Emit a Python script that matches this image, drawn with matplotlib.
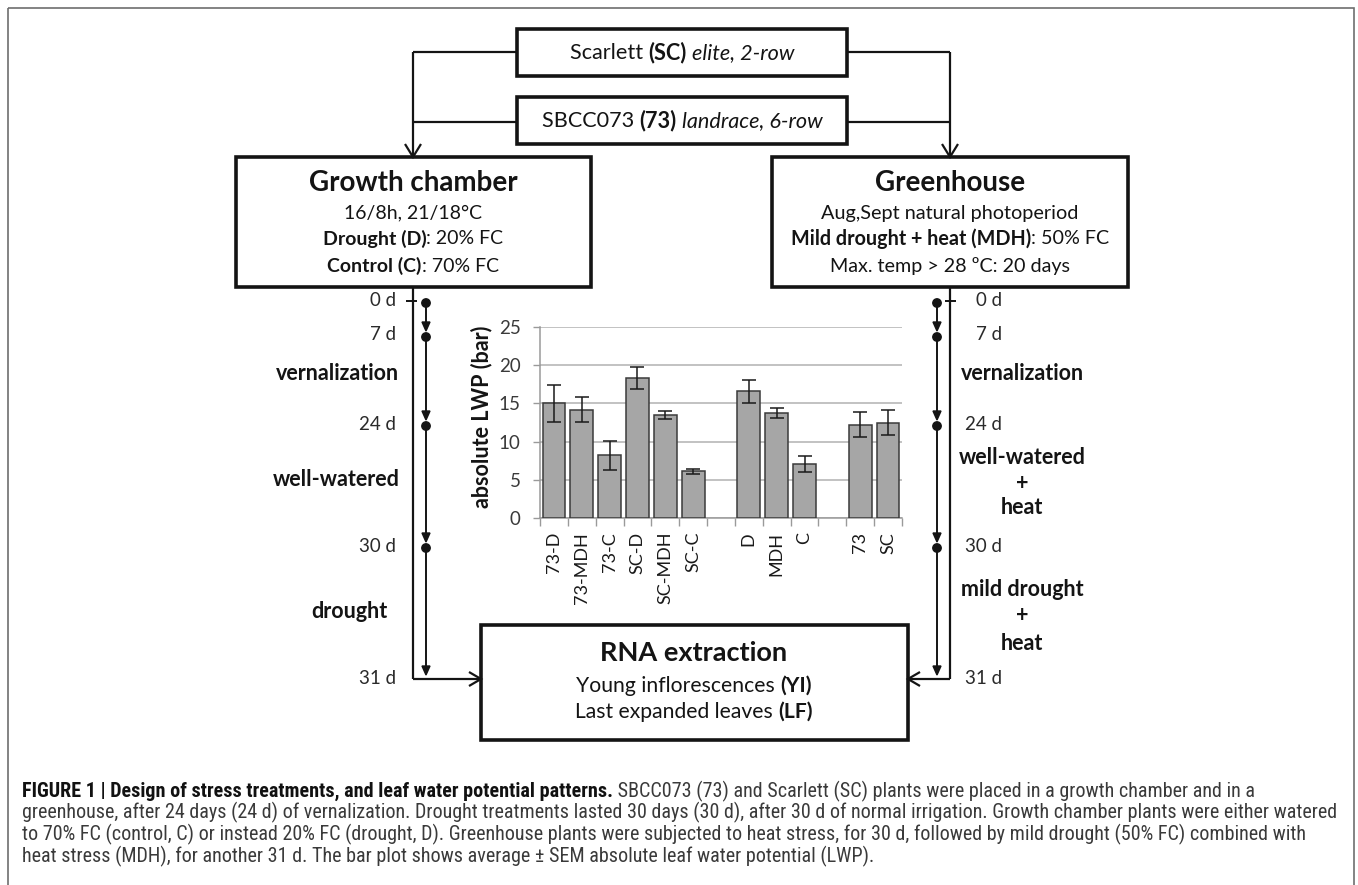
import matplotlib
matplotlib.use("Agg")
import matplotlib.pyplot as plt
from matplotlib import font_manager as fm
from matplotlib.patches import Rectangle, Polygon, Circle

W, H, DPI = 1358, 885, 100
FONT = ["Lato", "DejaVu Sans"]
INK = "#141414"

# ---- bar chart data: absolute leaf water potential (bar), mean and SEM ----
categories = ["73-D", "73-MDH", "73-C", "SC-D", "SC-MDH", "SC-C",
              "D", "MDH", "C",
              "73", "SC"]
lwp_mean = [15.0, 14.2, 8.2, 18.3, 13.5, 6.1, 16.6, 13.8, 7.1, 12.2, 12.5]
lwp_sem = [2.4, 1.6, 1.9, 1.4, 0.5, 0.35, 1.5, 0.65, 1.05, 1.65, 1.7]
group_sizes = [6, 3, 2]
y_ticks = [0, 5, 10, 15, 20, 25]
y_label = "absolute LWP (bar)"

# ---- diagram text ----
day_labels = ["0 d", "7 d", "24 d", "30 d", "31 d"]
chamber_phases = [["vernalization"], ["well-watered"], ["drought"]]
greenhouse_phases = [["vernalization"], ["well-watered", "+", "heat"],
                     ["mild drought", "+", "heat"]]
caption_lines = [
    [("FIGURE 1 | Design of stress treatments, and leaf water potential patterns.", "bold"),
     (" SBCC073 (73) and Scarlett (SC) plants were placed in a growth chamber and in a", "normal")],
    [("greenhouse, after 24 days (24 d) of vernalization. Drought treatments lasted 30 days (30 d), "
      "after 30 d of normal irrigation. Growth chamber plants were either watered", "normal")],
    [("to 70% FC (control, C) or instead 20% FC (drought, D). Greenhouse plants were subjected to "
      "heat stress, for 30 d, followed by mild drought (50% FC) combined with", "normal")],
    [("heat stress (MDH), for another 31 d. The bar plot shows average \u00b1 SEM absolute leaf "
      "water potential (LWP).", "normal")],
]


def find_condensed(bold):
    """Locate an installed narrow/condensed sans face for the caption."""
    prefs = ["liberation sans narrow", "roboto condensed", "dejavu sans",
             "noto sans", "open sans", "arial narrow", "liberation sans"]
    best = None
    for f in fm.fontManager.ttflist:
        name = f.name.lower()
        fname = f.fname.lower()
        narrow = ("narrow" in name or "condensed" in name
                  or "condensed" in str(f.stretch).lower()
                  or "condensed" in fname or "narrow" in fname)
        if not narrow:
            continue
        if any(k in fname for k in ("semi", "extra", "ultra", "light", "thin",
                                    "medium", "black", "mono", "serif")):
            continue
        if f.style != "normal":
            continue
        w = f.weight if isinstance(f.weight, int) else \
            {"normal": 400, "regular": 400, "book": 400, "bold": 700}.get(str(f.weight).lower(), 400)
        if bold != (w >= 600) or w > 750:
            continue
        rank = next((i for i, p in enumerate(prefs) if name.startswith(p)), len(prefs))
        if best is None or rank < best[0]:
            best = (rank, f.fname)
    if best:
        return fm.FontProperties(fname=best[1])
    return fm.FontProperties(family=["Liberation Sans", "DejaVu Sans"],
                             weight="bold" if bold else "normal")


CAP_FP = {"normal": find_condensed(False), "bold": find_condensed(True)}

fig = plt.figure(figsize=(W / DPI, H / DPI), dpi=DPI)
fig.patch.set_facecolor("white")
ax = fig.add_axes([0, 0, 1, 1])
ax.set_xlim(0, W)
ax.set_ylim(H, 0)
ax.axis("off")
renderer = fig.canvas.get_renderer()


def measure(s, **kw):
    """Pixel advance of a string, robust to leading/trailing spaces."""
    t1 = ax.text(0, 0, s + "|", **kw)
    t2 = ax.text(0, 0, "|", **kw)
    w = t1.get_window_extent(renderer).width - t2.get_window_extent(renderer).width
    t1.remove()
    t2.remove()
    return w


def rich_line(x, y, parts, size, ha="center", family=FONT, color=INK):
    kws = []
    for s, weight, style in parts:
        kws.append(dict(fontsize=size, fontweight=weight, fontstyle=style,
                        family=family, color=color))
    widths = [measure(p[0], **k) for p, k in zip(parts, kws)]
    total = sum(widths)
    x0 = x - total / 2 if ha == "center" else x
    for (s, _, _), k, w in zip(parts, kws, widths):
        ax.text(x0, y, s, ha="left", va="center", **k)
        x0 += w


def box(x0, y0, x1, y1, lw=2.6):
    ax.add_patch(Rectangle((x0, y0), x1 - x0, y1 - y0, fill=False,
                           edgecolor=INK, lw=lw, zorder=3))


def line(xs, ys, lw=1.6):
    ax.plot(xs, ys, color=INK, lw=lw, solid_capstyle="butt",
            solid_joinstyle="miter", zorder=3)


def vhead(tx, ty, direction, w=8, l=13, lw=1.6):
    # open arrow head with tip at (tx, ty)
    if direction == "down":
        line([tx - w, tx, tx + w], [ty - l, ty, ty - l], lw)
    elif direction == "right":
        line([tx - l, tx, tx - l], [ty - w, ty, ty + w], lw)
    elif direction == "left":
        line([tx + l, tx, tx + l], [ty - w, ty, ty + w], lw)


# outer frame (open at the bottom edge of the image)
ax.add_patch(Rectangle((8, 8), 1346, H + 20, fill=False,
                       edgecolor="#6e6e6e", lw=1.2))

# genotype boxes
box(517, 29, 847, 76)
box(517, 97, 847, 144)
rich_line(682, 53, [("Scarlett ", "normal", "normal"), ("(SC)", "bold", "normal"),
                    (" elite, 2-row", "normal", "italic")], 15.6)
rich_line(682, 121, [("SBCC073 ", "normal", "normal"), ("(73)", "bold", "normal"),
                     (" landrace, 6-row", "normal", "italic")], 15.6)

# connectors to both environments
for xc in (413, 950):
    xb = 517 if xc < 682 else 847
    line([xb, xc], [52, 52])
    line([xb, xc], [122, 122])
    line([xc, xc], [52, 157])
    vhead(xc, 157, "down")

# environment boxes
box(236, 157, 591, 287)
box(772, 157, 1128, 287)
ax.text(413, 183, "Growth chamber", ha="center", va="center", fontsize=20,
        fontweight="bold", family=FONT, color=INK)
ax.text(413, 213, "16/8h, 21/18\u00b0C", ha="center", va="center", fontsize=14,
        family=FONT, color=INK)
rich_line(413, 239, [("Drought (D)", "bold", "normal"), (": 20% FC", "normal", "normal")], 14)
rich_line(413, 266, [("Control (C)", "bold", "normal"), (": 70% FC", "normal", "normal")], 14)

ax.text(950, 183, "Greenhouse", ha="center", va="center", fontsize=20,
        fontweight="bold", family=FONT, color=INK)
ax.text(950, 213, "Aug,Sept natural photoperiod", ha="center", va="center",
        fontsize=14.3, family=FONT, color=INK)
rich_line(950, 239, [("Mild drought + heat (MDH)", "bold", "normal"),
                     (": 50% FC", "normal", "normal")], 14.2)
ax.text(950, 266, "Max. temp > 28 \u00baC: 20 days", ha="center", va="center",
        fontsize=14.2, family=FONT, color=INK)

# RNA extraction box
box(481, 625, 908, 740)
ax.text(694, 653, "RNA extraction", ha="center", va="center", fontsize=19.5,
        fontweight="bold", family=FONT, color=INK)
rich_line(694, 686, [("Young inflorescences ", "normal", "normal"), ("(YI)", "bold", "normal")], 15.2)
rich_line(694, 712, [("Last expanded leaves ", "normal", "normal"), ("(LF)", "bold", "normal")], 15.2)

# timelines
day_y = [301, 335, 424, 546, 679]
for outer_x, inner_x, tick, lab_x in ((413, 426, (406, 417), 396),
                                      (950, 937, (945, 956), 1002)):
    line([outer_x, outer_x], [287, day_y[-1]])
    line(list(tick), [day_y[0], day_y[0]], lw=1.4)
    for i in range(len(day_y) - 1):
        y0 = day_y[i] + 2
        y1 = day_y[i + 1] - 4
        ax.add_patch(Circle((inner_x, y0), 4.2, color=INK, zorder=4))
        line([inner_x, inner_x], [y0, y1 - 8], lw=1.4)
        ax.add_patch(Polygon([(inner_x - 4, y1 - 9), (inner_x + 4, y1 - 9), (inner_x, y1)],
                             closed=True, color=INK, zorder=4))
    for lab, yy in zip(day_labels, day_y):
        ax.text(lab_x, yy, lab, ha="right", va="center", fontsize=13.5,
                family=FONT, color="#2a2a2a")

line([413, 481], [day_y[-1], day_y[-1]])
vhead(481, day_y[-1], "right", w=7, l=12)
line([950, 908], [day_y[-1], day_y[-1]])
vhead(908, day_y[-1], "left", w=7, l=12)

# phase names
for lines_, yy, xr in zip(chamber_phases, [374, 479, 612], [399, 400, 388]):
    ax.text(xr, yy, lines_[0], ha="right", va="center", fontsize=15.5,
            fontweight="bold", family=FONT, color=INK)
gh_y = [[374], [458, 484, 508], [590, 615, 643]]
for lines_, ys in zip(greenhouse_phases, gh_y):
    for s, yy in zip(lines_, ys):
        ax.text(1022, yy, s, ha="center", va="center", fontsize=15.5,
                fontweight="bold", family=FONT, color=INK)

# ---- bar chart ----
bx = fig.add_axes([540 / W, 1 - 518 / H, 362 / W, 191 / H])
bx.set_facecolor("none")
pos = []
slot = 0
for n in group_sizes:
    for _ in range(n):
        pos.append(slot)
        slot += 1
    slot += 1
n_slots = slot - 1
bx.bar(pos, lwp_mean, width=0.82, color="#a6a6a6", edgecolor="#3a3a3a",
       linewidth=1.1, zorder=3)
bx.errorbar(pos, lwp_mean, yerr=lwp_sem, fmt="none", ecolor="#1a1a1a",
            elinewidth=1.1, capsize=4.7, capthick=1.1, zorder=4)
bx.set_xlim(-0.5, n_slots - 0.5)
bx.set_ylim(y_ticks[0], y_ticks[-1])
bx.set_yticks(y_ticks)
bx.set_yticklabels([str(v) for v in y_ticks], fontsize=13.5, family=FONT,
                   color="#3a3a3a")
bx.set_xticks(pos)
bx.set_xticklabels(categories, rotation=90, fontsize=13, family=FONT,
                   color="#1a1a1a")
bx.set_xticks([i - 0.5 for i in range(n_slots + 1)], minor=True)
bx.tick_params(axis="x", which="major", length=0, pad=10)
bx.tick_params(axis="x", which="minor", length=6, width=1.0, color="#9a9a9a")
bx.tick_params(axis="y", length=5, width=1.0, color="#9a9a9a", pad=9)
bx.grid(axis="y", color="#b2b2b2", lw=1.1)
bx.set_axisbelow(True)
for side in ("top", "right"):
    bx.spines[side].set_visible(False)
for side in ("left", "bottom"):
    bx.spines[side].set_color("#9a9a9a")
    bx.spines[side].set_linewidth(1.1)
ax.text(482, 417, y_label, rotation=90, ha="center", va="center", fontsize=15.5,
        fontweight="bold", family=FONT, color=INK)

# ---- caption ----
def cap_props(weight, size):
    fp = CAP_FP[weight].copy()
    fp.set_size(size)
    return fp


ref = caption_lines[1][0][0]
w10 = measure(ref, fontproperties=cap_props("normal", 10))
cap_size = 10 * 1312 / w10
cap_y = [791, 812, 834, 856]
for parts, yy in zip(caption_lines, cap_y):
    x0 = 22
    for s, weight in parts:
        col = "#111111" if weight == "bold" else "#3a3a3a"
        fp = cap_props(weight, cap_size)
        ax.text(x0, yy, s, ha="left", va="center", fontproperties=fp, color=col)
        x0 += measure(s, fontproperties=fp)

fig.savefig("out.png", dpi=DPI, facecolor="white")
